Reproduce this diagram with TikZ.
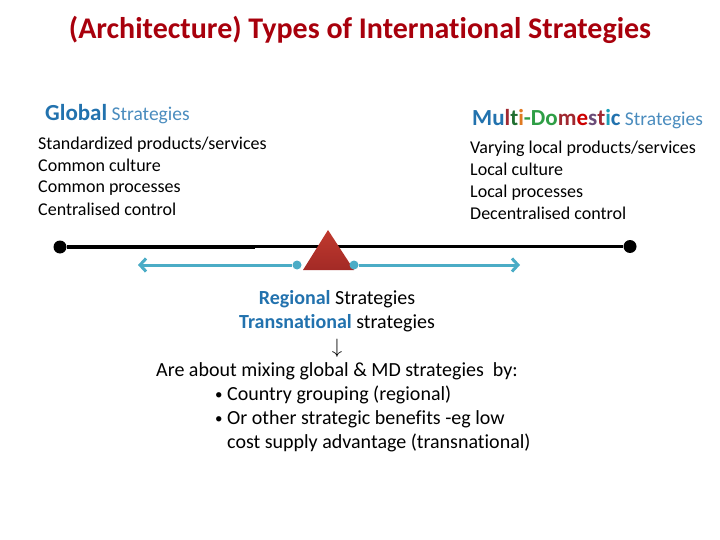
\documentclass[tikz,border=0pt]{standalone}
\usepackage{fontspec}
\setmainfont{Carlito}[Ligatures=NoCommon]
\usepackage{tikz}
\usetikzlibrary{arrows.meta,calc,positioning}
\usepackage{xcolor}

\definecolor{titlered}{HTML}{A8000C}
\definecolor{headblue}{HTML}{2272AE}
\definecolor{softblue}{HTML}{4A8CBE}
\definecolor{armblue}{HTML}{4BACC6}
\definecolor{pivotred}{HTML}{C0392E}
\definecolor{pivotdark}{HTML}{A32A26}
\definecolor{mdgreen}{HTML}{2E9E45}
\definecolor{mddark}{HTML}{A02830}
\definecolor{mdorange}{HTML}{E07A22}
\definecolor{mdpurple}{HTML}{6A4C78}
\definecolor{mdteal}{HTML}{1AA0B8}

\newcommand{\mdword}{%
  \textcolor{headblue}{Mu}\textcolor{mddark}{l}\textcolor{mdgreen!70!black}{t}%
  \textcolor{mdorange}{i}\textcolor{mdgreen}{-Do}\textcolor{mddark}{m}%
  \textcolor{red!80!black}{e}\textcolor{mdpurple}{s}\textcolor{mddark}{t}%
  \textcolor{mdteal}{i}\textcolor{headblue}{c}}

\tikzset{
  headtxt/.style={anchor=base west, inner sep=0pt, font=\fontsize{19.5}{23}\selectfont},
  listtxt/.style={anchor=base west, inner sep=0pt, font=\fontsize{18}{21}\selectfont},
  endpt/.style={circle, fill=black, inner sep=0pt, minimum size=13pt},
  armpt/.style={circle, fill=armblue, inner sep=0pt, minimum size=9pt},
  arm/.style={draw=armblue, line width=3pt, -{Straight Barb[length=6pt,width=13pt,line width=3pt]}},
  bodytxt/.style={inner sep=0pt, font=\fontsize{20}{24}\selectfont}
}

\begin{document}
\begin{tikzpicture}[x=1pt, y=-1pt]
\useasboundingbox (0,0) rectangle (720,540);

% --- Titolo ---
\node[anchor=base, inner sep=0pt, text=titlered, font=\fontsize{30}{36}\selectfont\bfseries]
  (title) at (360,39) {(Architecture) Types of International Strategies};

% --- Strategie globali (sinistra) ---
\node[headtxt] (globhead) at (45,121)
  {\textcolor{headblue}{\fontsize{23}{27}\selectfont\bfseries Global} \textcolor{softblue}{Strategies}};
\foreach \i/\y/\t in {0/150/{Standardized products/services}, 1/172/{Common culture},
                      2/193/{Common processes}, 3/215/{Centralised control}}{
  \node[listtxt] (gl\i) at (38,\y) {\t};
}

% --- Strategie multi-domestiche (destra) ---
\node[headtxt] (mdhead) at (472,126)
  {{\fontsize{23}{27}\selectfont\bfseries\mdword} \textcolor{softblue}{Strategies}};
\foreach \i/\y/\t in {0/154/{Varying local products/services}, 1/176/{Local culture},
                      2/198/{Local processes}, 3/220/{Decentralised control}}{
  \node[listtxt] (md\i) at (470,\y) {\t};
}

% --- Asse con fulcro ---
\node[endpt] (gend) at (60,247) {};
\node[endpt] (mend) at (630,246.5) {};
\coordinate (kink) at (255,247.5);
\draw[line width=3.5pt] (gend) -- (gend -| kink);
\draw[line width=3.5pt] (kink |- mend) -- (mend);
\shade[top color=pivotred, bottom color=pivotdark] (328,230) -- (354,270) -- (303,270) -- cycle;

% bracci blu
\node[armpt] (la) at (297,265) {};
\node[armpt] (ra) at (354,265) {};
\coordinate (ltip) at (138,265);
\coordinate (rtip) at (520,265);
\draw[arm] (la) -- (ltip);
\draw[arm] (ra) -- (rtip);

% --- Strategie regionali / transnazionali ---
\node[bodytxt, anchor=base] (reg) at (337,304)
  {\textcolor{headblue}{\bfseries Regional} Strategies};
\node[bodytxt, anchor=base] (trans) at (337,328)
  {\textcolor{headblue}{\bfseries Transnational} strategies};
\node[bodytxt, anchor=base] (down) at (337,353) {$\downarrow$};
\node[bodytxt, anchor=base west] (mix) at (156,376)
  {Are about mixing global \& MD strategies \ by:};
\foreach \i/\y/\t in {0/400/{Country grouping (regional)}, 1/424/{Or other strategic benefits -eg low}}{
  \node[bodytxt, anchor=base west, font=\fontsize{15}{18}\selectfont] (bul\i) at (215,\y-1) {•};
  \node[bodytxt, anchor=base west] (it\i) at (227,\y) {\t};
}
\node[bodytxt, anchor=base west] (it2) at (227,448) {cost supply advantage (transnational)};

\end{tikzpicture}
\end{document}
